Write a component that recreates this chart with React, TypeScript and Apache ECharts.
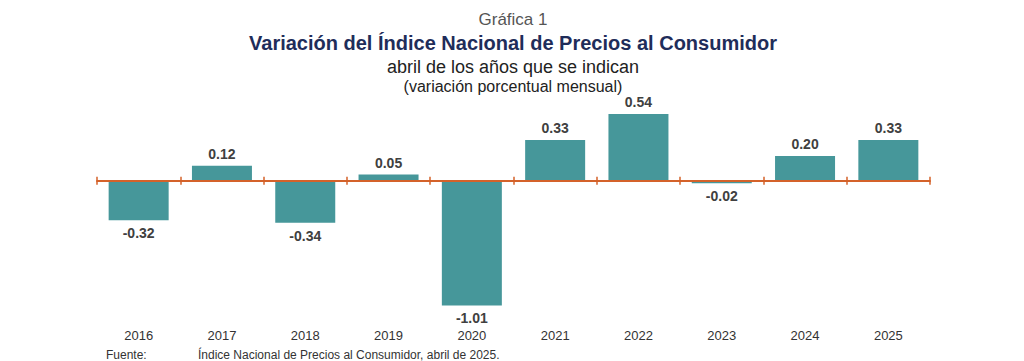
import React, { useEffect, useRef } from "react";
import * as echarts from "echarts";

const years = ["2016", "2017", "2018", "2019", "2020", "2021", "2022", "2023", "2024", "2025"];
const values = [-0.32, 0.12, -0.34, 0.05, -1.01, 0.33, 0.54, -0.02, 0.2, 0.33];

const kicker = "Gráfica 1";
const mainTitle = "Variación del Índice Nacional de Precios al Consumidor";
const subTitle1 = "abril de los años que se indican";
const subTitle2 = "(variación porcentual mensual)";
const sourceLabel = "Fuente:";
const sourceText = "Índice Nacional de Precios al Consumidor, abril de 2025.";

const BAR = "#46979a";
const AXIS = "#d4622a";
const FONT = "'Liberation Sans', Arial, sans-serif";

const Y_MIN = -1.15;
const Y_MAX = 0.6;

export default function App() {
  const ref = useRef<HTMLDivElement>(null);
  useEffect(() => {
    if (!ref.current) return;
    const chart = echarts.init(ref.current, undefined, { renderer: "svg" });
    const data = values.map((v) => ({
      value: v,
      label: v >= 0 ? { position: "top", distance: 5 } : { position: "bottom", distance: 6 },
    }));
    const gridBox = { left: 97, right: 94, top: 106.6, height: 216.1 };
    chart.setOption({
      animation: false,
      backgroundColor: "#ffffff",
      textStyle: { fontFamily: FONT },
      grid: [gridBox, gridBox],
      xAxis: [
        {
          type: "category",
          gridIndex: 0,
          data: years,
          position: "bottom",
          axisLine: { show: false, onZero: false },
          axisTick: { show: false },
          axisLabel: { color: "#333333", fontSize: 13, fontFamily: FONT, margin: 6 },
        },
        {
          type: "category",
          gridIndex: 0,
          data: years,
          position: "top",
          axisLine: { show: true, onZero: true, lineStyle: { color: AXIS, width: 2 } },
          axisTick: { show: true, inside: false, length: 4, lineStyle: { color: AXIS, width: 1.5 } },
          axisLabel: { show: false },
          z: 5,
        },
        {
          type: "category",
          gridIndex: 1,
          data: years,
          position: "bottom",
          axisLine: { show: false, onZero: true },
          axisTick: { show: true, inside: false, length: 4, lineStyle: { color: AXIS, width: 1.5 } },
          axisLabel: { show: false },
          z: 5,
        },
      ],
      yAxis: [
        { type: "value", gridIndex: 0, min: Y_MIN, max: Y_MAX, show: false, splitLine: { show: false } },
        { type: "value", gridIndex: 1, min: Y_MIN, max: Y_MAX, show: false, splitLine: { show: false } },
      ],
      series: [
        {
          type: "bar",
          xAxisIndex: 0,
          yAxisIndex: 0,
          data,
          barWidth: 60,
          itemStyle: { color: BAR },
          z: 1,
          label: {
            show: true,
            formatter: (p: any) => Number(p.value).toFixed(2),
            color: "#404040",
            fontWeight: "bold",
            fontSize: 14,
            fontFamily: FONT,
          },
        },
      ],
      graphic: [
        { type: "text", style: { x: 513, y: 19, text: kicker, font: `17px ${FONT}`, fill: "#555555", align: "center", verticalAlign: "middle" } },
        { type: "text", style: { x: 513, y: 43, text: mainTitle, font: `bold 20px ${FONT}`, fill: "#1f2d5a", align: "center", verticalAlign: "middle" } },
        { type: "text", style: { x: 513, y: 67, text: subTitle1, font: `18px ${FONT}`, fill: "#222222", align: "center", verticalAlign: "middle" } },
        { type: "text", style: { x: 513, y: 86, text: subTitle2, font: `16px ${FONT}`, fill: "#222222", align: "center", verticalAlign: "middle" } },
        { type: "text", style: { x: 106, y: 349, text: sourceLabel, font: `12px ${FONT}`, fill: "#333333" } },
        { type: "text", style: { x: 198, y: 349, text: sourceText, font: `12px ${FONT}`, fill: "#333333" } },
      ],
    });
    return () => chart.dispose();
  }, []);
  return <div ref={ref} style={{ position: "fixed", left: 0, top: 0, width: 1024, height: 361 }} />;
}
